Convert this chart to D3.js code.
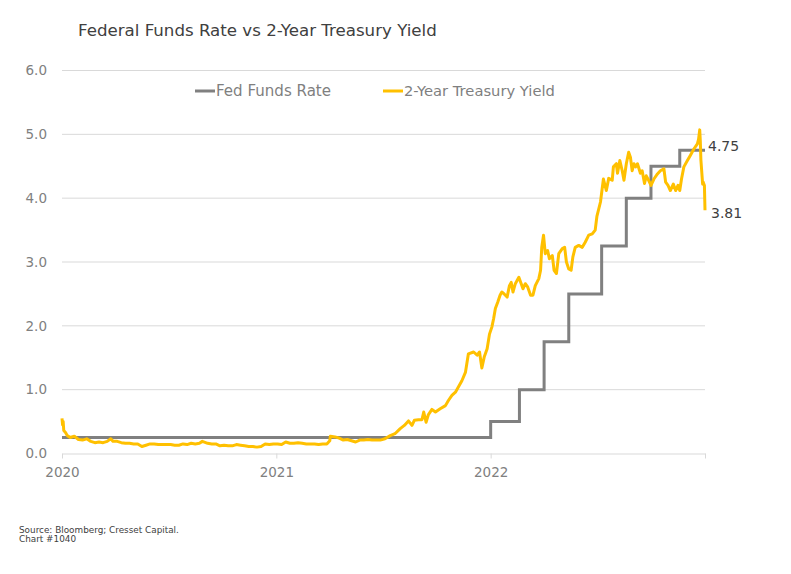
<!DOCTYPE html>
<html><head><meta charset="utf-8">
<script src="https://cdn.jsdelivr.net/npm/d3@7"></script>
<style>body{margin:0;background:#fff} svg{display:block;font-family:"DejaVu Sans",sans-serif}</style>
</head><body><svg id="chart" width="791" height="574"></svg>
<script>
const yieldDates = [
"2020-03-17","2020-03-18","2020-03-19","2020-03-20","2020-03-23","2020-03-26","2020-03-31","2020-04-07","2020-04-14","2020-04-21","2020-04-28",
"2020-05-05","2020-05-12","2020-05-19","2020-05-26","2020-06-02","2020-06-08","2020-06-12","2020-06-19","2020-06-26","2020-07-03","2020-07-10",
"2020-07-17","2020-07-24","2020-07-31","2020-08-07","2020-08-14","2020-08-21","2020-08-28","2020-09-04","2020-09-11","2020-09-18","2020-09-25",
"2020-10-02","2020-10-09","2020-10-16","2020-10-23","2020-10-30","2020-11-06","2020-11-11","2020-11-20","2020-11-27","2020-12-04","2020-12-11",
"2020-12-18","2020-12-25","2021-01-01","2021-01-08","2021-01-15","2021-01-22","2021-01-29","2021-02-05","2021-02-12","2021-02-19","2021-02-26",
"2021-03-05","2021-03-12","2021-03-19","2021-03-26","2021-04-02","2021-04-09","2021-04-16","2021-04-23","2021-04-30","2021-05-07","2021-05-14",
"2021-05-21","2021-05-28","2021-06-04","2021-06-11","2021-06-16","2021-06-17","2021-06-25","2021-07-02","2021-07-09","2021-07-16","2021-07-23",
"2021-07-30","2021-08-06","2021-08-13","2021-08-20","2021-08-27","2021-09-03","2021-09-10","2021-09-18","2021-09-27","2021-10-05","2021-10-14",
"2021-10-21","2021-10-28","2021-11-03","2021-11-07","2021-11-14","2021-11-20","2021-11-23","2021-11-27","2021-12-01","2021-12-07","2021-12-13",
"2021-12-21","2021-12-30","2022-01-04","2022-01-10","2022-01-16","2022-01-21","2022-01-27","2022-02-02","2022-02-07","2022-02-16","2022-02-22",
"2022-02-26","2022-03-02","2022-03-06","2022-03-11","2022-03-15","2022-03-19","2022-03-22","2022-03-25","2022-03-29","2022-04-02","2022-04-05",
"2022-04-09","2022-04-14","2022-04-18","2022-04-21","2022-04-24","2022-04-28","2022-05-04","2022-05-08","2022-05-11","2022-05-15","2022-05-19",
"2022-05-24","2022-05-28","2022-06-01","2022-06-07","2022-06-10","2022-06-12","2022-06-15","2022-06-18","2022-06-22","2022-06-25","2022-06-30",
"2022-07-03","2022-07-07","2022-07-11","2022-07-17","2022-07-21","2022-07-24","2022-07-28","2022-08-01","2022-08-04","2022-08-08","2022-08-14",
"2022-08-20","2022-08-25","2022-08-31","2022-09-06","2022-09-11","2022-09-14","2022-09-20","2022-09-25","2022-09-30","2022-10-04","2022-10-10",
"2022-10-12","2022-10-17","2022-10-19","2022-10-23","2022-10-27","2022-10-30","2022-11-03","2022-11-07","2022-11-10","2022-11-13","2022-11-16",
"2022-11-19","2022-11-22","2022-11-27","2022-11-30","2022-12-04","2022-12-07","2022-12-11","2022-12-15","2022-12-20","2022-12-26","2022-12-31",
"2023-01-06","2023-01-09","2023-01-13","2023-01-17","2023-01-22","2023-01-26","2023-01-30","2023-02-02","2023-02-05","2023-02-09","2023-02-15",
"2023-02-20","2023-02-26","2023-03-04","2023-03-06","2023-03-08","2023-03-09","2023-03-10","2023-03-13","2023-03-14","2023-03-16","2023-03-17"
];
const yieldValues = [
0.55,0.45,0.50,0.36,0.33,0.28,0.25,0.27,0.22,0.21,0.23,
0.19,0.17,0.18,0.17,0.19,0.23,0.19,0.19,0.17,0.16,0.16,
0.15,0.15,0.11,0.13,0.15,0.15,0.14,0.14,0.14,0.14,0.13,
0.13,0.15,0.14,0.16,0.15,0.16,0.19,0.16,0.15,0.15,0.12,
0.13,0.12,0.12,0.14,0.13,0.12,0.11,0.11,0.10,0.11,0.15,
0.14,0.15,0.15,0.14,0.18,0.16,0.16,0.17,0.16,0.15,0.15,
0.15,0.14,0.15,0.15,0.20,0.27,0.26,0.24,0.21,0.22,0.20,
0.18,0.21,0.21,0.22,0.21,0.21,0.21,0.23,0.28,0.31,0.39,
0.44,0.51,0.44,0.52,0.53,0.53,0.65,0.49,0.61,0.69,0.65,
0.70,0.75,0.83,0.91,0.96,1.04,1.14,1.27,1.56,1.59,1.54,
1.59,1.34,1.51,1.64,1.87,1.98,2.11,2.27,2.37,2.48,2.53,
2.50,2.45,2.63,2.68,2.53,2.66,2.76,2.66,2.58,2.66,2.61,
2.48,2.48,2.63,2.74,2.87,3.23,3.42,3.13,3.18,3.05,3.10,
2.87,2.82,3.13,3.21,3.23,3.00,2.89,2.87,3.08,3.23,3.26,
3.23,3.31,3.42,3.44,3.50,3.72,3.94,4.30,4.12,4.31,4.28,
4.49,4.54,4.39,4.59,4.43,4.28,4.54,4.72,4.64,4.43,4.54,
4.49,4.54,4.39,4.43,4.23,4.35,4.28,4.20,4.30,4.38,4.43,
4.46,4.25,4.20,4.12,4.22,4.12,4.20,4.12,4.30,4.49,4.59,
4.67,4.77,4.85,4.92,5.07,4.90,4.60,4.22,4.25,4.20,3.81
];
const fedDates = ["2020-03-17","2022-03-17","2022-05-05","2022-06-16","2022-07-28","2022-09-22","2022-11-03","2022-12-15","2023-02-02","2023-03-17"];
const fedValues = [0.25,0.50,1.00,1.75,2.50,3.25,4.00,4.50,4.75,4.75];
const yTicks = [0,1,2,3,4,5,6];
const xTickDates = ["2020-03-17","2021-03-17","2022-03-17","2023-03-17"];
const xTickLabels = ["2020","2021","2022",""];
const seriesNames = ["Fed Funds Rate","2-Year Treasury Yield"];
const endLabels = ["4.75","3.81"];
const titleText = "Federal Funds Rate vs 2-Year Treasury Yield";
const sourceLines = ["Source: Bloomberg; Cresset Capital.","Chart #1040"];

const parse = d3.timeParse("%Y-%m-%d");
const svg = d3.select("#chart");
const mLeft = 62, mRight = 705, mTop = 70.5, mBottom = 453.5;
const x = d3.scaleTime().domain([parse("2020-03-17"), parse("2023-03-17")]).range([mLeft, mRight]);
const y = d3.scaleLinear().domain([0, 6]).range([mBottom, mTop]);

function fit(sel, target){
  const w = sel.node().getComputedTextLength();
  const fs = parseFloat(sel.attr("font-size"));
  if (w > 0) sel.attr("font-size", (fs * target / w).toFixed(2));
}

// gridlines
svg.append("g").selectAll("line").data(yTicks.filter(d => d > 0)).join("line")
  .attr("x1", mLeft).attr("x2", mRight).attr("y1", d => y(d)).attr("y2", d => y(d))
  .attr("stroke", "#d9d9d9").attr("stroke-width", 1);

// y axis labels
const yAxis = svg.append("g").attr("transform", `translate(${mLeft},0)`)
  .call(d3.axisLeft(y).tickValues(yTicks).tickFormat(d3.format(".1f")).tickSize(0).tickPadding(15));
yAxis.select(".domain").remove();
yAxis.selectAll("text").attr("font-size", 13.5).attr("fill", "#808080").attr("font-family", "DejaVu Sans");

// x axis
const xAxis = svg.append("g").attr("transform", `translate(0,${mBottom})`)
  .call(d3.axisBottom(x).tickValues(xTickDates.map(parse)).tickFormat((d, i) => xTickLabels[i]).tickSize(5).tickPadding(9).tickSizeOuter(0));
xAxis.select(".domain").attr("stroke", "#d9d9d9");
xAxis.selectAll(".tick line").attr("stroke", "#d9d9d9");
xAxis.selectAll("text").attr("font-size", 13.5).attr("fill", "#808080").attr("font-family", "DejaVu Sans");

// Fed funds step line
const fedData = fedDates.map((d, i) => ({date: parse(d), v: fedValues[i]}));
svg.append("path").datum(fedData)
  .attr("fill", "none").attr("stroke", "#808080").attr("stroke-width", 3)
  .attr("d", d3.line().curve(d3.curveStepAfter).x(d => x(d.date)).y(d => y(d.v)));

// 2Y yield
const yData = yieldDates.map((d, i) => ({date: parse(d), v: yieldValues[i]}));
svg.append("path").datum(yData)
  .attr("fill", "none").attr("stroke", "#FFC000").attr("stroke-width", 3).attr("stroke-linejoin", "round")
  .attr("d", d3.line().x(d => x(d.date)).y(d => y(d.v)));

// end labels
svg.append("text").attr("x", 708).attr("y", 150.5).attr("font-size", 14).attr("fill", "#404040").text(endLabels[0]);
svg.append("text").attr("x", 711).attr("y", 218).attr("font-size", 14).attr("fill", "#404040").text(endLabels[1]);

// title
const t = svg.append("text").attr("x", 78).attr("y", 36).attr("font-size", 16).attr("fill", "#404040").text(titleText);
fit(t, 359);

// legend
const leg = [{x: 195, c: "#808080", w: 115}, {x: 383, c: "#FFC000", w: 151}];
leg.forEach((l, i) => {
  svg.append("line").attr("x1", l.x).attr("x2", l.x + 20).attr("y1", 91).attr("y2", 91)
    .attr("stroke", l.c).attr("stroke-width", 3);
  const tx = svg.append("text").attr("x", l.x + 21).attr("y", 96).attr("font-size", 13.5).attr("fill", "#7f7f7f").text(seriesNames[i]);
  fit(tx, l.w);
});

// source
const s1 = svg.append("text").attr("x", 19).attr("y", 533).attr("font-size", 9).attr("fill", "#404040").text(sourceLines[0]);
fit(s1, 160);
const s2 = svg.append("text").attr("x", 19).attr("y", 542).attr("font-size", 9).attr("fill", "#404040").text(sourceLines[1]);
s2.attr("font-size", s1.attr("font-size"));
</script>
</body></html>
